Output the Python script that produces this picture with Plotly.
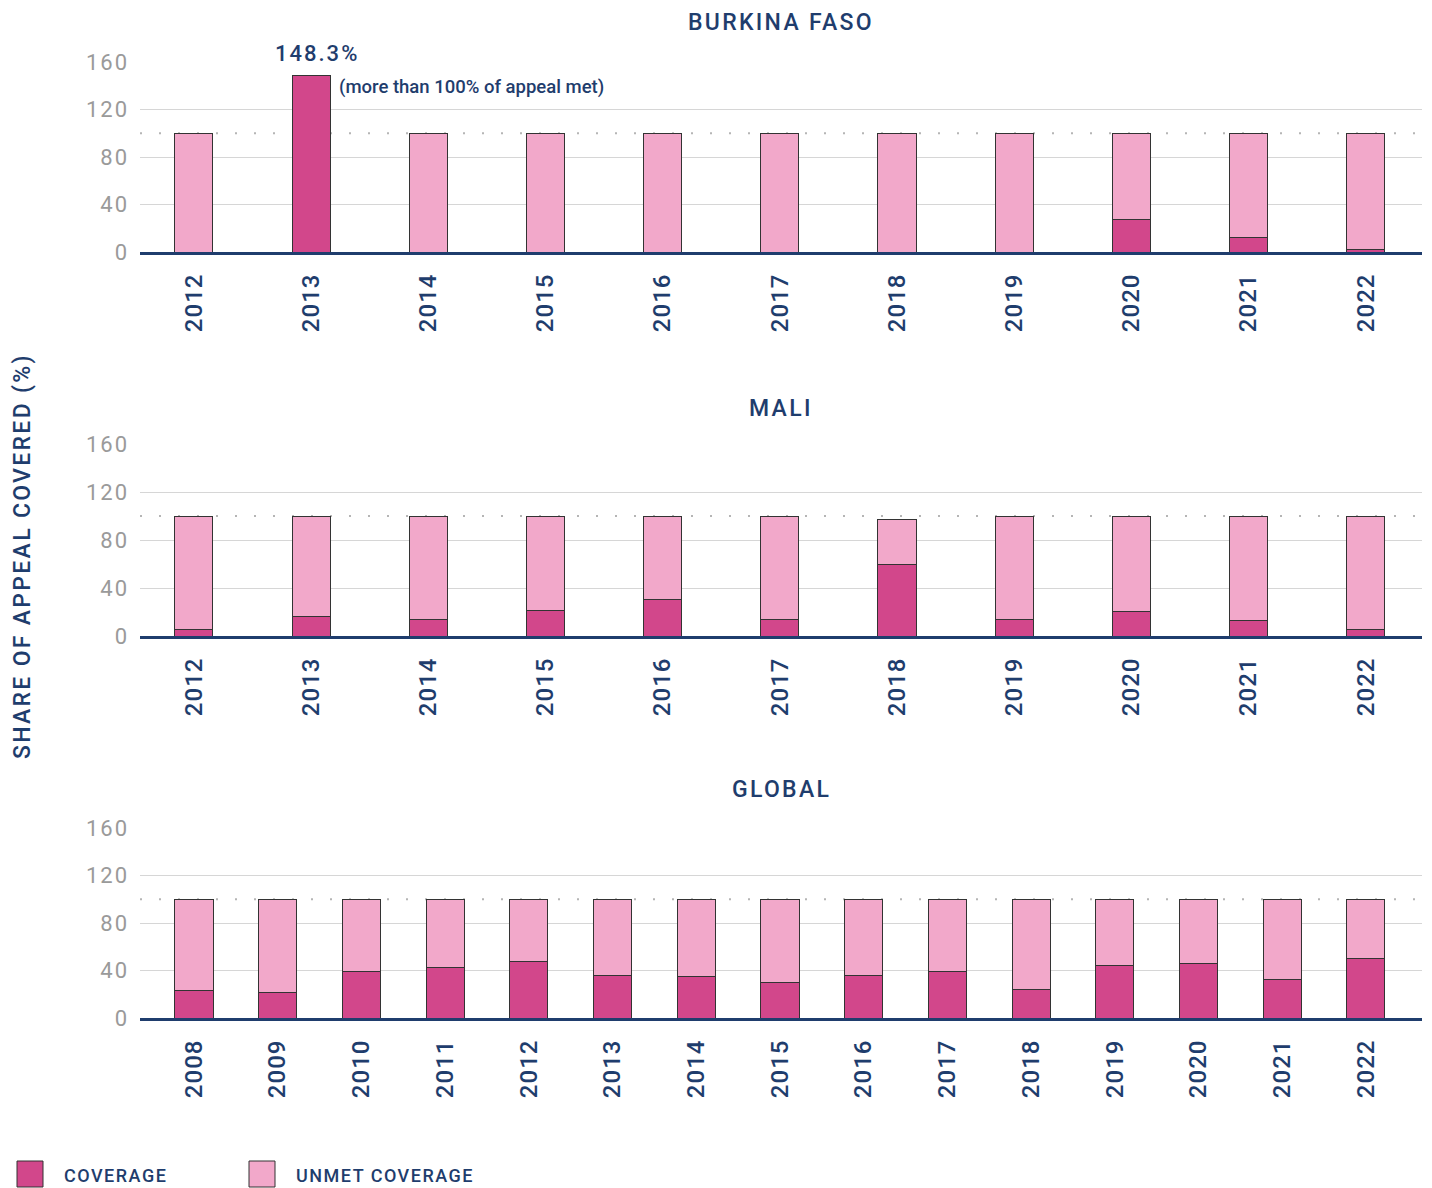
import plotly.graph_objects as go

# ---------------- data ----------------
bf_years = ["2012", "2013", "2014", "2015", "2016", "2017", "2018", "2019", "2020", "2021", "2022"]
bf_coverage = [0, 148.3, 0, 0, 0, 0, 0, 0, 27.3, 12.6, 2.5]
bf_unmet = [100, 0, 100, 100, 100, 100, 100, 100, 72.7, 87.4, 97.5]

mali_years = ["2012", "2013", "2014", "2015", "2016", "2017", "2018", "2019", "2020", "2021", "2022"]
mali_coverage = [5.3, 16.1, 14.0, 21.4, 30.6, 14.0, 59.7, 14.0, 20.8, 13.3, 5.6]
mali_unmet = [94.7, 83.9, 86.0, 78.6, 69.4, 86.0, 37.0, 86.0, 79.2, 86.7, 94.4]

gl_years = ["2008", "2009", "2010", "2011", "2012", "2013", "2014", "2015",
            "2016", "2017", "2018", "2019", "2020", "2021", "2022"]
gl_coverage = [23.1, 21.2, 39.5, 42.7, 47.7, 35.6, 35.0, 29.7,
               35.6, 39.0, 24.3, 44.3, 46.0, 32.5, 50.0]
gl_unmet = [76.9, 78.8, 60.5, 57.3, 52.3, 64.4, 65.0, 70.3,
            64.4, 61.0, 75.7, 55.7, 54.0, 67.5, 50.0]

y_ticks = [0, 40, 80, 120, 160]
panel_titles = ["BURKINA FASO", "MALI", "GLOBAL"]
legend_labels = ["COVERAGE", "UNMET COVERAGE"]
y_title = "SHARE OF APPEAL COVERED (%)"
peak_label = "148.3%"
peak_note = "(more than 100% of appeal met)"

# ---------------- style ----------------
C_COV = "#d2478b"
C_UNMET = "#f2a8ca"
NAVY = "#1f3d6d"
GREY_TXT = "#9a9a9a"
GRID = "#d6d6d6"
FONT = "Roboto"

W, H = 1432, 1188
OFF = 8                      # page body margin
ML = 140 - OFF
MR = W - (1422 - OFF)
FW = W - ML - MR


def py(px):
    return 1 - (px - OFF) / H


def pxx(px):
    return (px - OFF - ML) / FW


def sp(text, ls):
    return f'<span style="letter-spacing:{ls}px">{text}</span>'


panels = [
    dict(years=bf_years, cov=bf_coverage, unm=bf_unmet, top=62, bot=252, ttl=22, xr=[-0.46, 10.48], width=0.325),
    dict(years=mali_years, cov=mali_coverage, unm=mali_unmet, top=444, bot=636, ttl=408, xr=[-0.46, 10.48], width=0.325),
    dict(years=gl_years, cov=gl_coverage, unm=gl_unmet, top=828, bot=1018, ttl=790, xr=[-0.645, 14.67], width=0.455),
]

fig = go.Figure()
layout = dict(
    width=W, height=H,
    margin=dict(l=ML, r=MR, t=0, b=0, autoexpand=False),
    paper_bgcolor="white", plot_bgcolor="white",
    barmode="stack", showlegend=False,
    font=dict(family=FONT, color=NAVY),
)

shapes = []
annotations = []
for i, p in enumerate(panels, start=1):
    xa = "x" if i == 1 else f"x{i}"
    ya = "y" if i == 1 else f"y{i}"
    fig.add_trace(go.Bar(x=p["years"], y=p["cov"], name=legend_labels[0],
                         marker=dict(color=C_COV, line=dict(color="#333333", width=1)),
                         width=p["width"], xaxis=xa, yaxis=ya))
    fig.add_trace(go.Bar(x=p["years"], y=p["unm"], name=legend_labels[1],
                         marker=dict(color=C_UNMET, line=dict(color="#333333", width=1)),
                         width=p["width"], xaxis=xa, yaxis=ya))
    xkey = "xaxis" if i == 1 else f"xaxis{i}"
    ykey = "yaxis" if i == 1 else f"yaxis{i}"
    layout[xkey] = dict(
        type="category", range=p["xr"], anchor=ya, domain=[0, 1], automargin=False,
        showgrid=False, showline=True, linecolor=NAVY, linewidth=3,
        tickangle=-90, tickfont=dict(family=FONT, size=24, color=NAVY, weight=500),
        tickmode="array", tickvals=p["years"], ticktext=[sp(y, 1) for y in p["years"]],
        ticks="", ticklabelstandoff=9,
    )
    layout[ykey] = dict(
        range=[0, 160], domain=[py(p["bot"]), py(p["top"])], anchor=xa, automargin=False,
        tickmode="array", tickvals=y_ticks, ticktext=[sp(v, 2) for v in y_ticks],
        showgrid=True, gridcolor=GRID, gridwidth=1,
        zeroline=False, showline=False, ticks="", ticklabelstandoff=10,
        tickfont=dict(family=FONT, size=22, color=GREY_TXT),
    )
    # dotted 100% reference line
    shapes.append(dict(type="line", xref=f"{xa} domain", yref=ya, x0=0, x1=1, y0=100, y1=100,
                       line=dict(color="#b5b5b5", width=2, dash="2px,17px"), layer="below"))
    # panel title
    annotations.append(dict(text=sp(panel_titles[i - 1], 2.3), xref="paper", yref="paper",
                            x=0.5, y=py(p["ttl"]), xanchor="center", yanchor="middle",
                            showarrow=False, font=dict(family=FONT, size=23, color=NAVY, weight=500)))

# annotation for Burkina Faso 2013
peak_idx = bf_years.index("2013")
annotations.append(dict(text=sp(peak_label, 2), x=peak_idx, y=bf_coverage[peak_idx], xref="x", yref="y",
                        xanchor="center", yanchor="bottom", yshift=8, xshift=6, showarrow=False,
                        font=dict(family=FONT, size=22, color=NAVY, weight=500)))
annotations.append(dict(text=peak_note, x=peak_idx, y=bf_coverage[peak_idx], xref="x", yref="y",
                        xanchor="left", yanchor="middle", xshift=26, yshift=-11, showarrow=False,
                        font=dict(family=FONT, size=18.5, color=NAVY, weight=500)))

# y axis title
annotations.append(dict(text=sp(y_title, 2.3), xref="paper", yref="paper",
                        x=pxx(22), y=py(556), xanchor="center", yanchor="middle",
                        textangle=-90, showarrow=False, font=dict(family=FONT, size=23, color=NAVY, weight=500)))

# legend (drawn as boxes + labels)
legend_items = [(17, C_COV, 62), (249, C_UNMET, 294)]
for (x0, col, tx), lab in zip(legend_items, legend_labels):
    shapes.append(dict(type="rect", xref="paper", yref="paper", x0=pxx(x0), x1=pxx(x0 + 26),
                       y0=py(1187), y1=py(1161), fillcolor=col, line=dict(color="#333333", width=1)))
    annotations.append(dict(text=sp(lab, 1.5), xref="paper", yref="paper", x=pxx(tx), y=py(1175),
                            xanchor="left", yanchor="middle", showarrow=False,
                            font=dict(family=FONT, size=18, color=NAVY, weight=500)))

layout["shapes"] = shapes
layout["annotations"] = annotations
fig.update_layout(**layout)
fig.write_html("out.html")
